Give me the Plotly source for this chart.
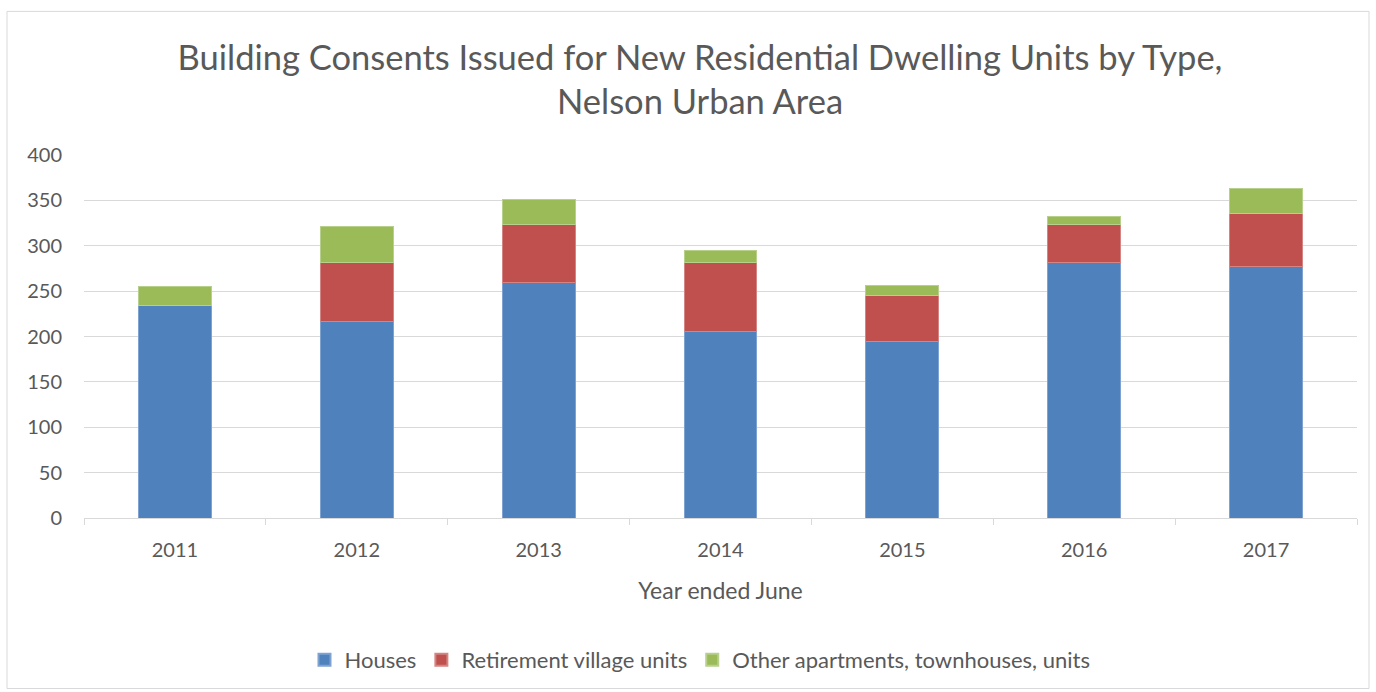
import plotly.graph_objects as go

years = ["2011", "2012", "2013", "2014", "2015", "2016", "2017"]
houses = [234, 217, 260, 206, 195, 281, 277]
retirement = [0, 64, 63, 75, 50, 42, 58]
other = [21, 40, 28, 14, 11, 9, 28]

series_names = ["Houses", "Retirement village units", "Other apartments, townhouses, units"]
colors = ["#4F81BD", "#C0504D", "#9BBB59"]
edge = ["#7FA3D1", "#D48482", "#B7D08C"]

W, H = 1376, 692
L, R, T, B = 84, 19, 155, 173
pw, ph = W - L - R, H - T - B
FONT = "Lato"
TXT = "#595959"

fig = go.Figure()
for name, vals, c, e in zip(series_names, [houses, retirement, other], colors, edge):
    fig.add_trace(go.Bar(x=years, y=vals, name=name, marker=dict(color=c, line=dict(color=e, width=1)),
                         width=0.4))

def px_x(p):
    return (p - L) / pw

def px_y(p):
    return (H - B - p) / ph

fig.update_layout(
    width=W, height=H,
    barmode="stack",
    margin=dict(l=L, r=R, t=T, b=B),
    paper_bgcolor="white", plot_bgcolor="white",
    font=dict(family=FONT, color=TXT, size=20),
    title=dict(text="Building Consents Issued for New Residential Dwelling Units by Type,<br>Nelson Urban Area",
               x=0.5 * (178 + 1222) / W, xanchor="center", xref="container",
               y=1 - 69.5 / H, yanchor="middle", yref="container",
               font=dict(family=FONT, size=34.5, color=TXT)),
    showlegend=True,
    legend=dict(orientation="h", x=px_x(700), xanchor="center", y=px_y(660), yanchor="middle",
                font=dict(size=22, color=TXT), traceorder="normal", itemwidth=30,
                itemsizing="constant"),
    shapes=[dict(type="rect", xref="paper", yref="paper",
                 x0=px_x(7), x1=px_x(1369), y0=px_y(690), y1=px_y(11),
                 line=dict(color="#D9D9D9", width=1), fillcolor="rgba(0,0,0,0)", layer="below")],
)
fig.update_xaxes(type="category", showline=True, linecolor="#D9D9D9", linewidth=1,
                 ticks="outside", tickson="boundaries", ticklen=6, tickcolor="#D9D9D9",
                 showgrid=False, tickfont=dict(size=20, color=TXT), ticklabelstandoff=14,
                 title=dict(text="Year ended June", font=dict(size=23, color=TXT), standoff=22))
fig.update_yaxes(range=[0, 400], dtick=50, showgrid=True, gridcolor="#D9D9D9", gridwidth=1,
                 zeroline=False, showline=False, ticks="", tickfont=dict(size=20, color=TXT),
                 ticklabelstandoff=21)

fig.write_html("out.html", config={"displayModeBar": False},
               post_script="document.body.style.margin='0';document.body.style.overflow='hidden';")
